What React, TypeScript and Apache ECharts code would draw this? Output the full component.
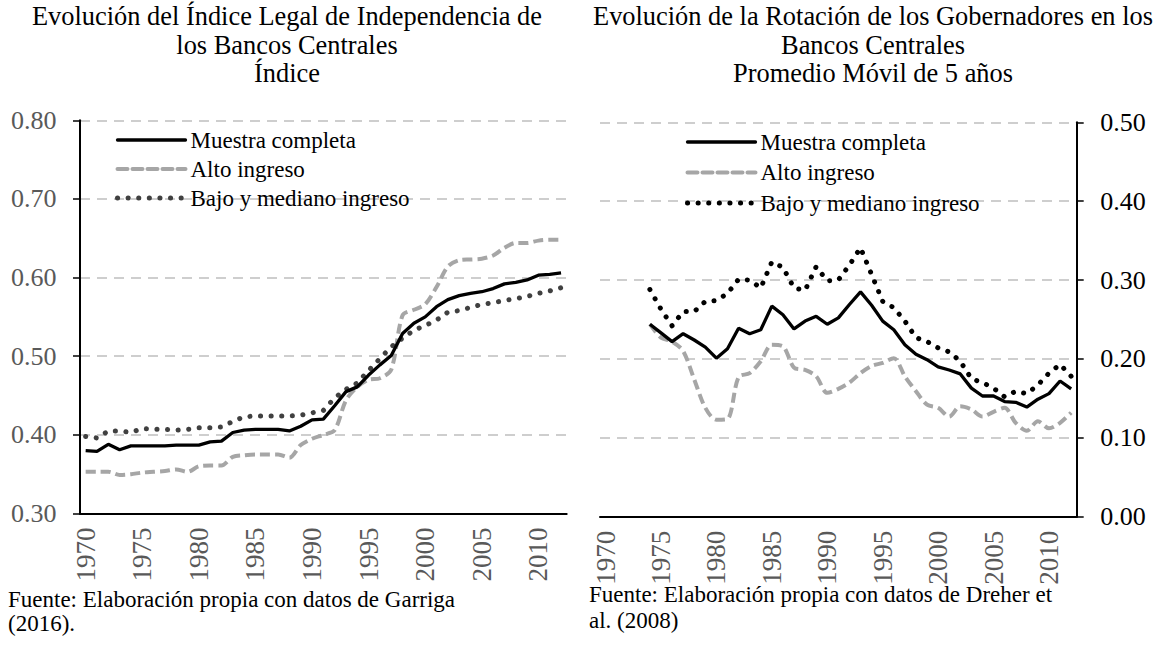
import React, { useEffect, useRef } from "react";
import * as echarts from "echarts";

const years = [
  "1970", "1971", "1972", "1973", "1974", "1975", "1976", "1977", "1978", "1979",
  "1980", "1981", "1982", "1983", "1984", "1985", "1986", "1987", "1988", "1989",
  "1990", "1991", "1992", "1993", "1994", "1995", "1996", "1997", "1998", "1999",
  "2000", "2001", "2002", "2003", "2004", "2005", "2006", "2007", "2008", "2009",
  "2010", "2011", "2012",
];

const seriesNames = ["Muestra completa", "Alto ingreso", "Bajo y mediano ingreso"];

// Left chart: Índice legal de independencia
const indiceMuestra = [
  0.380, 0.379, 0.388, 0.381, 0.386, 0.386, 0.386, 0.386, 0.387, 0.387,
  0.387, 0.391, 0.392, 0.403, 0.406, 0.407, 0.407, 0.407, 0.405, 0.411,
  0.419, 0.420, 0.437, 0.455, 0.461, 0.476, 0.489, 0.501, 0.529, 0.542,
  0.550, 0.563, 0.572, 0.577, 0.580, 0.582, 0.586, 0.592, 0.594, 0.597,
  0.603, 0.604, 0.606,
];
const indiceAlto = [
  0.353, 0.353, 0.353, 0.349, 0.350, 0.352, 0.353, 0.354, 0.356, 0.353,
  0.360, 0.361, 0.361, 0.372, 0.374, 0.375, 0.375, 0.375, 0.371, 0.387,
  0.395, 0.400, 0.406, 0.444, 0.461, 0.470, 0.472, 0.483, 0.552, 0.559,
  0.566, 0.588, 0.614, 0.622, 0.623, 0.624, 0.628, 0.638, 0.644, 0.644,
  0.647, 0.648, 0.648,
];
const indiceBajo = [
  0.398, 0.396, 0.405, 0.405, 0.403, 0.408, 0.407, 0.407, 0.406, 0.407,
  0.409, 0.409, 0.410, 0.417, 0.423, 0.424, 0.424, 0.424, 0.424, 0.425,
  0.428, 0.431, 0.447, 0.458, 0.466, 0.482, 0.497, 0.512, 0.523, 0.533,
  0.539, 0.546, 0.556, 0.558, 0.562, 0.566, 0.568, 0.571, 0.573, 0.576,
  0.580, 0.583, 0.587,
];

// Right chart: Rotación de gobernadores (promedio móvil 5 años)
const rotMuestra = [
  null, null, null, null, 0.244, 0.233, 0.222, 0.232, 0.224, 0.215,
  0.201, 0.213, 0.239, 0.232, 0.237, 0.267, 0.256, 0.238, 0.248, 0.254,
  0.244, 0.252, 0.269, 0.285, 0.268, 0.248, 0.237, 0.218, 0.206, 0.199,
  0.190, 0.186, 0.181, 0.163, 0.153, 0.153, 0.146, 0.145, 0.139, 0.149,
  0.156, 0.172, 0.162,
];
const rotAlto = [
  null, null, null, null, 0.244, 0.227, 0.222, 0.210, 0.174, 0.138,
  0.123, 0.124, 0.177, 0.182, 0.197, 0.218, 0.216, 0.189, 0.186, 0.178,
  0.157, 0.162, 0.170, 0.182, 0.191, 0.195, 0.201, 0.178, 0.159, 0.142,
  0.138, 0.127, 0.140, 0.136, 0.127, 0.133, 0.138, 0.119, 0.109, 0.121,
  0.112, 0.119, 0.132,
];
const rotBajo = [
  null, null, null, null, 0.288, 0.263, 0.242, 0.260, 0.260, 0.273,
  0.274, 0.283, 0.301, 0.300, 0.290, 0.323, 0.316, 0.290, 0.287, 0.317,
  0.299, 0.300, 0.319, 0.341, 0.307, 0.273, 0.265, 0.248, 0.227, 0.222,
  0.214, 0.209, 0.197, 0.175, 0.170, 0.163, 0.152, 0.159, 0.156, 0.167,
  0.182, 0.193, 0.178,
];

const titleLeft = "Evolución del Índice Legal de Independencia de\nlos Bancos Centrales\nÍndice";
const titleRight = "Evolución de la Rotación de los Gobernadores en los\nBancos Centrales\nPromedio Móvil de 5 años";
const noteLeft = "Fuente: Elaboración propia con datos de Garriga\n(2016).";
const noteRight = "Fuente: Elaboración propia con datos de Dreher et\nal. (2008)";

const FONT = '"Liberation Serif", "Times New Roman", serif';
const GRID_GRAY = "#bfbfbf";
const LABEL_GRAY = "#595959";
const ALTO_GRAY = "#a6a6a6";

function xAxisFor(gridIndex: number) {
  return {
    type: "category",
    gridIndex,
    data: years,
    boundaryGap: true,
    axisLine: { lineStyle: { color: "#000", width: 2 } },
    axisTick: {
      interval: 4,
      length: 7,
      lineStyle: { color: "#000", width: 1.5 },
    },
    axisLabel: {
      interval: 4,
      rotate: 90,
      margin: 14,
      color: LABEL_GRAY,
      fontFamily: FONT,
      fontSize: 27,
    },
    splitLine: { show: false },
  };
}

function yAxisFor(gridIndex: number, min: number, max: number, position: string, labelColor: string) {
  return {
    type: "value",
    gridIndex,
    min,
    max,
    interval: 0.1,
    position,
    axisLine: { show: true, lineStyle: { color: "#000", width: 2 } },
    axisTick: { show: true, length: 7, lineStyle: { color: "#000", width: 1.5 } },
    axisLabel: {
      margin: 23.5,
      color: labelColor,
      fontFamily: FONT,
      fontSize: 26,
      formatter: (v: number) => v.toFixed(2),
    },
    splitLine: {
      show: true,
      lineStyle: { color: GRID_GRAY, width: 1.5, type: [10, 7] },
    },
  };
}

export default function App() {
  const ref = useRef<HTMLDivElement>(null);

  useEffect(() => {
    if (!ref.current) return;
    const chart = echarts.init(ref.current, undefined, { renderer: "svg" });

    const solid = (color: string) => ({ color, width: 3.3, type: "solid" });
    const dashed = { color: ALTO_GRAY, width: 4, type: [10, 5] };
    const dotted = (color: string) => ({ color, width: 5, type: [0.1, 10.5], cap: "round" });

    const mk = (name: string, data: (number | null)[], idx: number, lineStyle: any, smooth: number | boolean, z: number) => ({
      type: "line",
      name,
      data,
      xAxisIndex: idx,
      yAxisIndex: idx,
      symbol: "none",
      showSymbol: false,
      smooth,
      connectNulls: false,
      lineStyle,
      itemStyle: { color: lineStyle.color },
      z,
    });

    const rightNames = seriesNames.map((n) => n + " ");

    const legendBase = {
      orient: "vertical",
      itemWidth: 68,
      itemHeight: 2,
      itemStyle: { opacity: 0 },
      lineStyle: { width: "inherit", type: "inherit", cap: "round" },
      textStyle: { fontFamily: FONT, fontSize: 23, color: "#000", lineHeight: 24 },
      selectedMode: false,
    };

    chart.setOption({
      animation: false,
      backgroundColor: "#ffffff",
      textStyle: { fontFamily: FONT },
      grid: [
        { left: 80, right: 596.3, top: 120.3, bottom: 148.5, containLabel: false },
        { left: 600, right: 86.3, top: 122.3, bottom: 145.3, containLabel: false },
      ],
      xAxis: [xAxisFor(0), xAxisFor(1)],
      yAxis: [
        yAxisFor(0, 0.3, 0.8, "left", LABEL_GRAY),
        yAxisFor(1, 0, 0.5, "right", "#000"),
      ],
      legend: [
        {
          ...legendBase,
          left: 110,
          top: 123,
          itemGap: 5,
          data: seriesNames,
        },
        {
          ...legendBase,
          left: 680,
          top: 125,
          itemGap: 6.5,
          data: rightNames,
          formatter: (n: string) => n.trim(),
        },
      ],
      series: [
        mk(seriesNames[1], indiceAlto, 0, dashed, 0.3, 2),
        mk(seriesNames[2], indiceBajo, 0, dotted("#404040"), false, 3),
        mk(seriesNames[0], indiceMuestra, 0, solid("#000"), false, 4),
        mk(rightNames[1], rotAlto, 1, dashed, 0.3, 2),
        mk(rightNames[2], rotBajo, 1, dotted("#000"), false, 3),
        mk(rightNames[0], rotMuestra, 1, solid("#000"), false, 4),
      ],
      graphic: [
        {
          type: "text",
          x: 287,
          y: 2,
          style: { text: titleLeft, textAlign: "center", fill: "#000", font: `26.4px ${FONT}`, lineHeight: 28.5 },
        },
        {
          type: "text",
          x: 873,
          y: 2,
          style: { text: titleRight, textAlign: "center", fill: "#000", font: `26.4px ${FONT}`, lineHeight: 28.5 },
        },
        {
          type: "text",
          x: 8,
          y: 587,
          style: { text: noteLeft, textAlign: "left", fill: "#000", font: `23px ${FONT}`, lineHeight: 24 },
        },
        {
          type: "text",
          x: 589,
          y: 581,
          style: { text: noteRight, textAlign: "left", fill: "#000", font: `23px ${FONT}`, lineHeight: 26 },
        },
      ],
    });

    return () => chart.dispose();
  }, []);

  return (
    <div
      ref={ref}
      style={{ position: "fixed", left: 0, top: 0, width: 1163, height: 662, background: "#fff" }}
    />
  );
}
